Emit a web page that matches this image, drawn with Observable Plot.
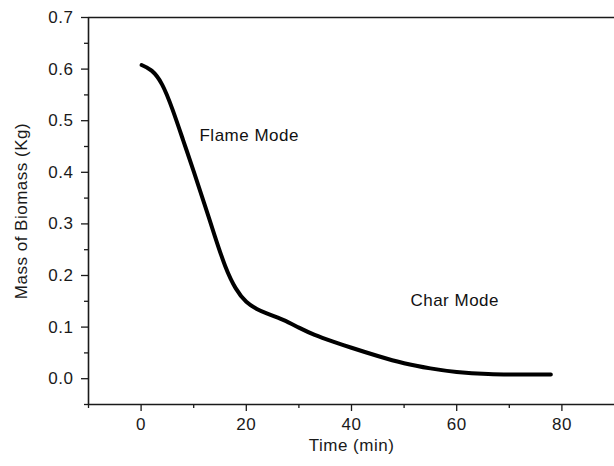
<!DOCTYPE html>
<html>
<head>
<meta charset="utf-8">
<script src="https://cdn.jsdelivr.net/npm/d3@7"></script>
<script src="https://cdn.jsdelivr.net/npm/@observablehq/plot@0.6"></script>
<style>
  html, body { margin: 0; padding: 0; background: #fff; }
  #chart svg { display: block; }
  #chart svg text { letter-spacing: 0.5px; }
</style>
</head>
<body>
<div id="chart"></div>
<script>
const timeMin = [0.1, 2.0, 4.0, 6.0, 8.0, 10.0, 12.0, 14.0, 16.0, 18.0, 20.0, 22.0, 24.0, 27.0, 30.0, 33.0, 36.5, 40.0, 45.0, 50.0, 55.0, 60.0, 66.0, 72.0, 77.9];
const massKg  = [0.608, 0.597, 0.570, 0.521, 0.462, 0.402, 0.340, 0.277, 0.218, 0.175, 0.149, 0.135, 0.126, 0.114, 0.099, 0.085, 0.072, 0.060, 0.044, 0.030, 0.020, 0.013, 0.009, 0.008, 0.008];

const xMajor = [0, 20, 40, 60, 80];
const xMinor = [-10, 10, 30, 50, 70];
const yMajor = [0, 0.1, 0.2, 0.3, 0.4, 0.5, 0.6, 0.7];
const yMinor = [-0.05, 0.05, 0.15, 0.25, 0.35, 0.45, 0.55, 0.65];

const notes = [
  {t: 11.1, m: 0.472, label: "Flame Mode"},
  {t: 51.2, m: 0.151, label: "Char Mode"}
];

const data = timeMin.map((t, i) => ({t, m: massKg[i]}));
const axisColor = "#1a1a1a";

const chart = Plot.plot({
  width: 614,
  height: 466,
  marginLeft: 88,
  marginRight: 0,
  marginTop: 17,
  marginBottom: 62,
  style: {fontFamily: "Liberation Sans, Arial, sans-serif", fontSize: "17px", color: axisColor, background: "#fff"},
  x: {domain: [-10, 90]},
  y: {domain: [-0.05, 0.7]},
  marks: [
    Plot.axisX(xMinor, {tickSize: 4, text: null, label: null, strokeWidth: 1.3}),
    Plot.axisX(xMajor, {tickSize: 7, tickPadding: 6, strokeWidth: 1.3, fontSize: 17,
      label: "Time (min)", labelAnchor: "center", labelArrow: "none", labelOffset: 46}),
    Plot.axisY(yMinor, {tickSize: 4, text: null, label: null, strokeWidth: 1.3}),
    Plot.axisY(yMajor, {tickSize: 7, tickPadding: 8, strokeWidth: 1.3, fontSize: 17, tickFormat: d3.format(".1f"),
      label: "Mass of Biomass (Kg)", labelAnchor: "center", labelArrow: "none", labelOffset: 74}),
    Plot.ruleX([-10], {stroke: axisColor, strokeWidth: 1.6}),
    Plot.ruleY([-0.05], {stroke: axisColor, strokeWidth: 1.6}),
    Plot.ruleY([0.7], {stroke: axisColor, strokeWidth: 1.6}),
    Plot.line(data, {x: "t", y: "m", stroke: "#000", strokeWidth: 4, curve: "natural"}),
    Plot.text(notes, {x: "t", y: "m", text: "label", textAnchor: "start", fontSize: 17, fill: "#111"})
  ]
});
document.getElementById("chart").appendChild(chart);
</script>
</body>
</html>
